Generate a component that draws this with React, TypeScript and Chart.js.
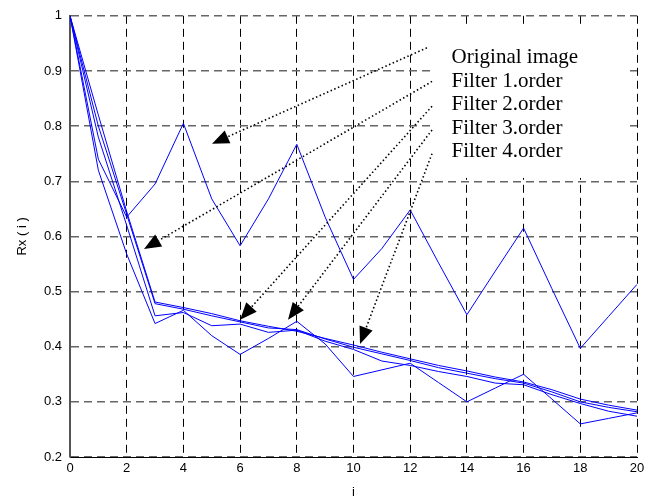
import React, { useEffect, useRef } from 'react';
import { Chart, registerables } from 'chart.js';

Chart.register(...registerables);

// ---- data ----
const xValues = [0, 1, 2, 3, 4, 5, 6, 7, 8, 9, 10, 11, 12, 13, 14, 15, 16, 17, 18, 19, 20];
const originalImage = [1, 0.74, 0.635, 0.695, 0.805, 0.668, 0.583, 0.668, 0.767, 0.635, 0.522, 0.578, 0.648, 0.552, 0.458, 0.537, 0.615, 0.505, 0.397, 0.455, 0.513];
const filter1 = [1, 0.82, 0.645, 0.481, 0.471, 0.46, 0.447, 0.437, 0.428, 0.415, 0.403, 0.39, 0.378, 0.366, 0.356, 0.345, 0.336, 0.322, 0.305, 0.294, 0.285];
const filter2 = [1, 0.8, 0.64, 0.478, 0.468, 0.456, 0.445, 0.434, 0.431, 0.414, 0.399, 0.387, 0.375, 0.362, 0.352, 0.342, 0.334, 0.318, 0.3, 0.29, 0.282];
const filter3 = [1, 0.72, 0.568, 0.442, 0.466, 0.42, 0.386, 0.415, 0.446, 0.405, 0.346, 0.358, 0.37, 0.335, 0.3, 0.325, 0.35, 0.305, 0.26, 0.27, 0.28];
const filter4 = [1, 0.78, 0.62, 0.456, 0.462, 0.438, 0.441, 0.426, 0.43, 0.41, 0.395, 0.374, 0.366, 0.355, 0.346, 0.334, 0.331, 0.313, 0.297, 0.283, 0.274];

const xTickValues = [0, 2, 4, 6, 8, 10, 12, 14, 16, 18, 20];
const xTickLabels = ['0', '2', '4', '6', '8', '10', '12', '14', '16', '18', '20'];
const yTickValues = [0.2, 0.3, 0.4, 0.5, 0.6, 0.7, 0.8, 0.9, 1];
const yTickLabels = ['0.2', '0.3', '0.4', '0.5', '0.6', '0.7', '0.8', '0.9', '1'];

const xTitle = 'i';
const yTitle = 'Rx ( i )';

// annotation texts (data coordinates of the text baseline start)
const noteTexts = ['Original image', 'Filter 1.order', 'Filter 2.order', 'Filter 3.order', 'Filter 4.order'];
const noteX = 13.46;
const noteY = [0.914, 0.871, 0.829, 0.786, 0.744];
// arrows: from (start) to (tip), data coordinates
const arrowStartX = [12.59, 12.77, 12.77, 12.77, 12.77];
const arrowStartY = [0.942, 0.881, 0.836, 0.793, 0.75];
const arrowTipX = [5.01, 2.61, 6.0, 7.69, 10.23];
const arrowTipY = [0.768, 0.577, 0.449, 0.449, 0.405];
// white note box (data coordinates)
const boxXRange = [12.77, 19.68];
const boxYRange = [0.706, 0.98];

const seriesList = [originalImage, filter1, filter2, filter3, filter4];
const seriesNames = ['Original image', 'Filter 1.order', 'Filter 2.order', 'Filter 3.order', 'Filter 4.order'];

const sansFont = "'Liberation Sans', Arial, sans-serif";
const serifFont = "'Liberation Serif', 'Times New Roman', serif";

const notesPlugin = {
  id: 'notesPlugin',
  beforeDatasetsDraw(chart: any) {
    const { ctx, scales } = chart;
    const x = scales.x, y = scales.y;
    const l = x.getPixelForValue(boxXRange[0]);
    const r = x.getPixelForValue(boxXRange[1]);
    const t = y.getPixelForValue(boxYRange[1]);
    const b = y.getPixelForValue(boxYRange[0]);
    ctx.save();
    ctx.fillStyle = '#ffffff';
    ctx.fillRect(l, t, r - l, b - t);
    ctx.restore();
  },
  afterDatasetsDraw(chart: any) {
    const { ctx, scales, chartArea } = chart;
    const x = scales.x, y = scales.y;
    ctx.save();
    // texts
    ctx.fillStyle = '#000';
    ctx.font = `21px ${serifFont}`;
    ctx.textAlign = 'left';
    ctx.textBaseline = 'alphabetic';
    noteTexts.forEach((t, i) => {
      ctx.fillText(t, x.getPixelForValue(noteX), y.getPixelForValue(noteY[i]));
    });
    // arrows
    for (let i = 0; i < arrowStartX.length; i++) {
      const sx = x.getPixelForValue(arrowStartX[i]);
      const sy = y.getPixelForValue(arrowStartY[i]);
      const tx = x.getPixelForValue(arrowTipX[i]);
      const ty = y.getPixelForValue(arrowTipY[i]);
      const ang = Math.atan2(ty - sy, tx - sx);
      const len = 17, hw = 7;
      const bx = tx - len * Math.cos(ang);
      const by = ty - len * Math.sin(ang);
      ctx.beginPath();
      ctx.setLineDash([1.5, 2.5]);
      ctx.lineWidth = 1.6;
      ctx.strokeStyle = '#000';
      ctx.moveTo(sx, sy);
      ctx.lineTo(bx, by);
      ctx.stroke();
      ctx.setLineDash([]);
      ctx.beginPath();
      ctx.moveTo(tx, ty);
      ctx.lineTo(bx + hw * Math.sin(ang), by - hw * Math.cos(ang));
      ctx.lineTo(bx - hw * Math.sin(ang), by + hw * Math.cos(ang));
      ctx.closePath();
      ctx.fillStyle = '#000';
      ctx.fill();
    }
    ctx.restore();
  },
  afterDraw(chart: any) {
    const { ctx, chartArea } = chart;
    ctx.save();
    ctx.fillStyle = '#000';
    ctx.font = `13px ${sansFont}`;
    ctx.textAlign = 'center';
    ctx.textBaseline = 'middle';
    ctx.fillText(xTitle, (chartArea.left + chartArea.right) / 2, 492);
    ctx.translate(22, (chartArea.top + chartArea.bottom) / 2);
    ctx.rotate(-Math.PI / 2);
    ctx.fillText(yTitle, 0, 0);
    ctx.restore();
  },
};

export default function App() {
  const canvasRef = useRef<HTMLCanvasElement | null>(null);

  useEffect(() => {
    const canvas = canvasRef.current;
    if (!canvas) return;
    const chart = new Chart(canvas, {
      type: 'line',
      data: {
        datasets: seriesList.map((s, i) => ({
          label: seriesNames[i],
          data: xValues.map((xv, j) => ({ x: xv, y: s[j] })),
          borderColor: '#0000ff',
          borderWidth: 1,
          pointRadius: 0,
          fill: false,
          tension: 0,
        })),
      },
      options: {
        animation: false,
        responsive: false,
        devicePixelRatio: 1,
        layout: { padding: { left: 0, right: 24, top: 13, bottom: 0 } },
        plugins: {
          legend: { display: false },
          tooltip: { enabled: false },
          title: { display: false },
        },
        scales: {
          x: {
            type: 'linear',
            min: 0,
            max: 20,
            afterBuildTicks: (scale: any) => {
              scale.ticks = xTickValues.map((v) => ({ value: v }));
            },
            afterFit: (scale: any) => {
              scale.height = 45;
            },
            ticks: {
              color: '#000',
              font: { family: sansFont, size: 13 },
              padding: 4,
              maxRotation: 0,
              autoSkip: false,
              callback: (_v: any, idx: number) => xTickLabels[idx],
            },
            grid: { color: '#000', lineWidth: 1, drawTicks: false },
            border: { display: true, color: '#000', width: 1, dash: [8, 5] },
          },
          y: {
            type: 'linear',
            min: 0.2,
            max: 1,
            afterBuildTicks: (scale: any) => {
              scale.ticks = yTickValues.map((v) => ({ value: v }));
            },
            afterFit: (scale: any) => {
              scale.width = 70;
            },
            ticks: {
              color: '#000',
              font: { family: sansFont, size: 13 },
              padding: 8,
              autoSkip: false,
              callback: (_v: any, idx: number) => yTickLabels[idx],
            },
            grid: { color: '#666', lineWidth: 1.5, drawTicks: false },
            border: { display: true, color: '#555', width: 2, dash: [8, 5] },
          },
        },
      },
      plugins: [notesPlugin],
    });
    return () => chart.destroy();
  }, []);

  return (
    <div style={{ position: 'absolute', left: 0, top: 0, width: 661, height: 502, background: '#fff' }}>
      <canvas ref={canvasRef} width={661} height={502} style={{ display: 'block' }} />
    </div>
  );
}
